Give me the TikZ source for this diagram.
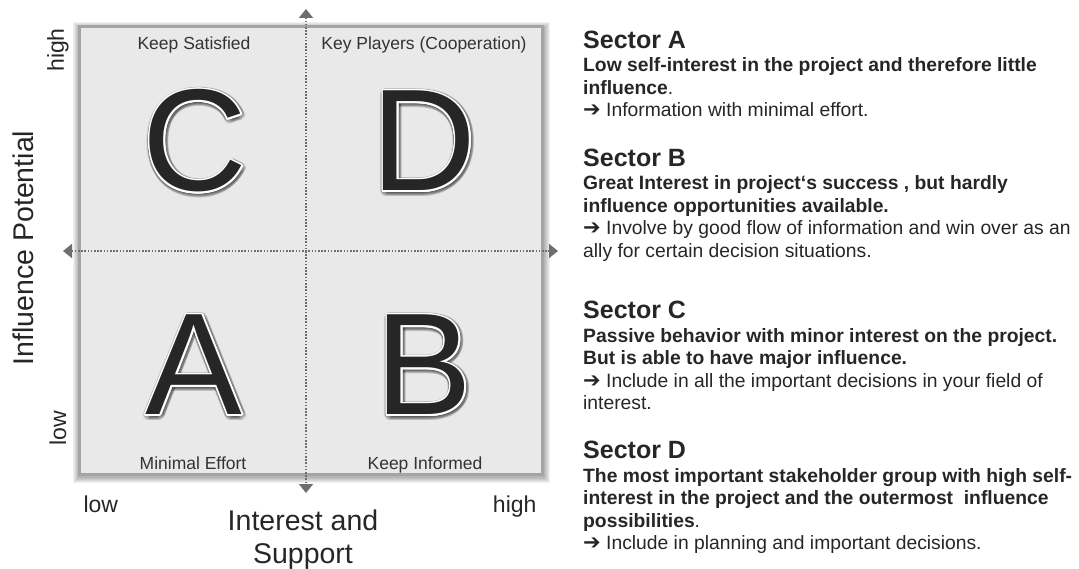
\documentclass[tikz,border=0pt]{standalone}
\usepackage{fontspec}
\setmainfont{Liberation Sans}
\newfontfamily\symfont{DejaVu Sans}
\usepackage{tikz}
\usepackage{xcolor}
\usetikzlibrary{positioning,arrows.meta}

\definecolor{txtgray}{HTML}{262626}
\definecolor{lblgray}{HTML}{333333}
\definecolor{axisgray}{HTML}{6E6E6E}
\definecolor{gridfill}{HTML}{E9E9E9}
\definecolor{gridline}{HTML}{A4A4A4}

\newcommand{\arr}{{\symfont\bfseries\fontsize{21}{22.5}\selectfont ➔}}

\tikzset{
  quadlabel/.style={font=\fontsize{17.5}{20}\selectfont, text=lblgray, anchor=base},
  axislabel/.style={font=\fontsize{23}{26}\selectfont, text=txtgray},
  axistitle/.style={font=\fontsize{28.5}{33}\selectfont, text=txtgray, align=center},
  bigletter/.style={font=\fontsize{145}{150}\selectfont, inner sep=0pt},
  sechead/.style={font=\fontsize{25}{28}\selectfont\bfseries, text=txtgray, anchor=west, inner sep=0pt},
  sectext/.style={font=\fontsize{19.3}{22.5}\selectfont, text=txtgray, align=left, inner sep=0pt},
  dotaxis/.style={axisgray, line width=2pt, dash pattern=on 1.6pt off 1.6pt,
    {Triangle[length=9pt,width=14pt]}-{Triangle[length=9pt,width=14pt]}},
}

\begin{document}
\begin{tikzpicture}[x=1pt,y=-1pt]
\useasboundingbox (0,0) rectangle (1079,569);

% Shadow of the grid
\foreach \s in {1,...,6}
  \fill[black, opacity=0.055] (78-\s+1,26-\s+2) rectangle (543+\s+1,475+\s+2);
% Grid
\node[draw=gridline, line width=3pt, fill=gridfill, minimum width=463pt, minimum height=447pt, inner sep=0pt] (grid) at (310.5,250.5) {};

% Axis
\coordinate (axW) at (63,251);
\coordinate (axE) at (558,251);
\coordinate (axN) at (306,9);
\coordinate (axS) at (306,493);
\draw[dotaxis] (axW) -- (axE);
\draw[dotaxis] (axN) -- (axS);

% Sector letters
\foreach \ltr/\px/\py in {C/195/141, D/424/141, A/194/365, B/424/365} {
  \foreach \a in {0,20,...,340}
    \node[bigletter, text=black, opacity=0.1] at ({\px+1+3.8*cos(\a)},{\py+1.5+3.8*sin(\a)}) {\ltr};
  \foreach \a in {0,20,...,340}
    \node[bigletter, text=white] at ({\px+1.6*cos(\a)},{\py+1.6*sin(\a)}) {\ltr};
  \node[bigletter, text=txtgray] (lett\ltr) at (\px,\py) {\ltr};
}

% Quadrant labels
\node[quadlabel] (lblC) at (194,50) {Keep Satisfied};
\node[quadlabel] (lblD) at (424,50) {Key Players (Cooperation)};
\node[quadlabel] (lblA) at (193,469) {Minimal Effort};
\node[quadlabel] (lblB) at (425,469) {Keep Informed};

% Axis labels
\node[axislabel, rotate=90] (yhigh) at (58,50) {high};
\node[axislabel, rotate=90] (ylow) at (58,428) {low};
\node[axistitle, rotate=90] (ytitle) at (23,248) {Influence Potential};
\node[axislabel, anchor=base west] (xlow) at (80,512) {low};
\node[axislabel, anchor=base east] (xhigh) at (540,512) {high};
\node[axistitle, anchor=north] (xtitle) at (303,506) {Interest and\\Support};

% Sector descriptions
\node[sechead] (secA) at (583,40) {Sector A};
\node[sectext, below=7pt of secA.south west, anchor=north west] (txtA)
  {\strut\textbf{Low self-interest in the project and therefore little}\\
   \textbf{influence}.\\
   \arr\ Information with minimal effort.};

\node[sechead] (secB) at (583,158) {Sector B};
\node[sectext, below=7pt of secB.south west, anchor=north west] (txtB)
  {\strut\textbf{Great Interest in project‘s success , but hardly}\\
   \textbf{influence opportunities available.}\\
   \arr\ Involve by good flow of information and win over as an\\
   ally for certain decision situations.};

\node[sechead] (secC) at (583,310) {Sector C};
\node[sectext, below=7pt of secC.south west, anchor=north west] (txtC)
  {\strut\textbf{Passive behavior with minor interest on the project.}\\
   \textbf{But is able to have major influence.}\\
   \arr\ Include in all the important decisions in your field of\\
   interest.};

\node[sechead] (secD) at (583,450) {Sector D};
\node[sectext, below=7pt of secD.south west, anchor=north west] (txtD)
  {\strut\textbf{The most important stakeholder group with high self-}\\
   \textbf{interest in the project and the outermost\ \ influence}\\
   \textbf{possibilities}.\\
   \arr\ Include in planning and important decisions.};
\end{tikzpicture}
\end{document}
